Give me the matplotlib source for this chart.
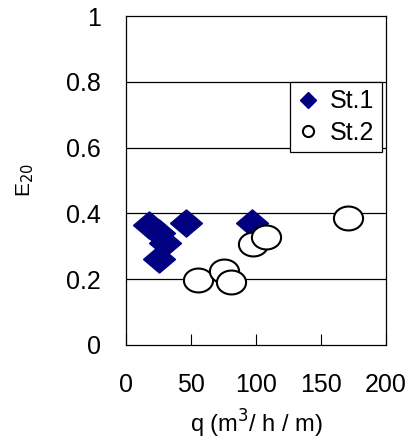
import matplotlib
matplotlib.use("Agg")
import matplotlib.pyplot as plt
import numpy as np

plt.rcParams['font.family'] = ['Liberation Sans', 'DejaVu Sans']

# St.1 (diamonds)
q1 = [18, 25, 30, 25, 46, 97]
e1 = [0.365, 0.34, 0.31, 0.26, 0.37, 0.37]
# St.2 (open circles)
q2 = [55, 75, 81, 98, 108, 171]
e2 = [0.198, 0.225, 0.19, 0.307, 0.327, 0.387]

xticks = [0, 50, 100, 150, 200]
yticks = [0, 0.2, 0.4, 0.6, 0.8, 1]
ylabels = ['0', '0.2', '0.4', '0.6', '0.8', '1']

# slightly flattened marker shapes like the original
diamond = [(-1, 0), (0, 0.85), (1, 0), (0, -0.85), (-1, 0)]
t = np.linspace(0, 2 * np.pi, 60)
oval = np.column_stack([np.cos(t), 0.82 * np.sin(t)])

fig = plt.figure(figsize=(4.16, 4.41), dpi=100)
ax = fig.add_axes([126 / 416, 96 / 441, 260 / 416, 329 / 441])

for y in [0.2, 0.4, 0.6, 0.8]:
    ax.axhline(y, color='black', lw=0.9, zorder=1)

ax.plot(q1, e1, linestyle='none', marker=diamond, markersize=23,
        markerfacecolor='#000080', markeredgecolor='#000080', zorder=3)
ax.plot(q2, e2, linestyle='none', marker=oval, markersize=21,
        markerfacecolor='white', markeredgecolor='black', markeredgewidth=1.5, zorder=3)

# small legend markers
h1, = ax.plot([], [], linestyle='none', marker='D', markersize=8,
              color='#000080', label='St.1')
h2, = ax.plot([], [], linestyle='none', marker='o', markersize=8,
              markerfacecolor='white', markeredgecolor='black', markeredgewidth=1.5, label='St.2')

ax.set_xlim(0, 200)
ax.set_ylim(0, 1)
ax.set_xticks(xticks)
ax.set_yticks(yticks)
ax.set_yticklabels(ylabels)
ax.tick_params(axis='x', direction='in', length=8, pad=20, labelsize=18)
ax.tick_params(axis='y', length=0, pad=18, labelsize=18)
for s in ax.spines.values():
    s.set_linewidth(0.9)

ax.set_xlabel('q (m$^3$/ h / m)', fontsize=17, labelpad=8)
ax.set_ylabel('E$_{20}$', fontsize=15, labelpad=22)

leg = ax.legend(handles=[h1, h2], loc='upper right', bbox_to_anchor=(0.985, 0.80),
                fontsize=18, frameon=True, fancybox=False, edgecolor='black',
                framealpha=1, handlelength=0.8, handletextpad=0.5,
                borderpad=0.3, labelspacing=0.3, borderaxespad=0)
leg.get_frame().set_linewidth(0.9)

fig.savefig('out.png', dpi=100)
